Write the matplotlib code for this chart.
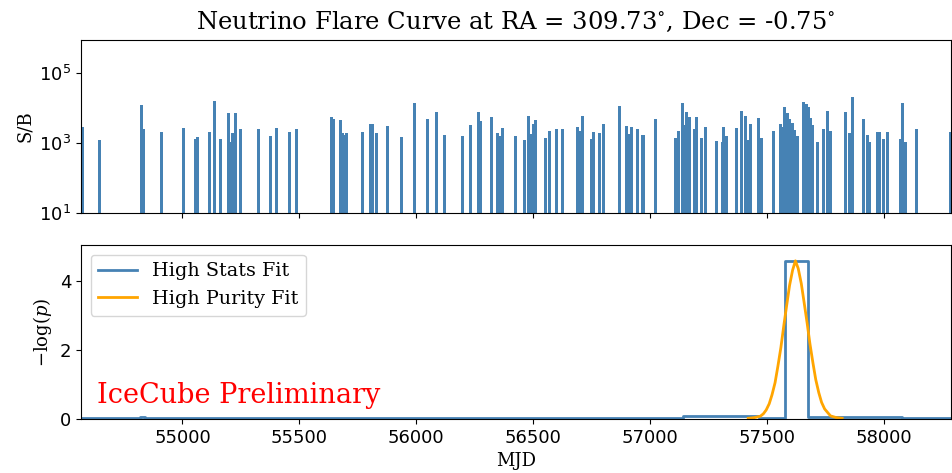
import matplotlib
matplotlib.use('Agg')
import matplotlib.pyplot as plt

plt.rcParams['mathtext.fontset'] = 'dejavuserif'

# top panel: S/B of each event (MJD, S/B)
event_mjd = [54573, 54644, 54826, 54834, 54912, 55006, 55057, 55064, 55115, 55138,
             55162, 55196, 55205, 55211, 55216, 55226, 55250, 55326, 55376, 55401,
             55458, 55489, 55637, 55644, 55678, 55685, 55693, 55703, 55772, 55806,
             55812, 55832, 55878, 55936, 55993, 56047, 56088, 56121, 56196, 56232,
             56265, 56275, 56324, 56346, 56356, 56371, 56424, 56464, 56482, 56491,
             56502, 56512, 56552, 56571, 56602, 56627, 56691, 56700, 56710, 56749,
             56757, 56784, 56802, 56871, 56899, 56909, 56919, 56947, 56970, 57023,
             57111, 57122, 57140, 57148, 57158, 57168, 57191, 57198, 57221, 57238,
             57285, 57309, 57316, 57327, 57369, 57390, 57408, 57419, 57430, 57466,
             57475, 57530, 57558, 57568, 57577, 57586, 57598, 57608, 57618, 57629,
             57658, 57668, 57676, 57688, 57696, 57716, 57741, 57761, 57773, 57837,
             57854, 57865, 57912, 57929, 57941, 57972, 57982, 58000, 58017, 58072,
             58079, 58093, 58138, 58285]
event_sb = [2900, 1230, 12300, 2450, 2040, 2640, 1270, 1520, 2040, 15900,
            1260, 7100, 1100, 1100, 1950, 7100, 2450, 2450, 1590, 2640,
            2040, 2450, 5400, 4900, 4560, 1900, 1660, 1900, 2040, 3500,
            3500, 1900, 3100, 1520, 13500, 4900, 7800, 1690, 1590, 3270,
            7800, 4240, 5400, 1900, 1590, 2640, 1590, 1220, 6000, 1780,
            3400, 4560, 1410, 2250, 2450, 2450, 2950, 2250, 6000, 1290,
            2040, 1900, 3500, 11500, 3100, 1800, 2950, 2450, 1690, 4900,
            1410, 2250, 13500, 3270, 7800, 5600, 2450, 5400, 1410, 2950,
            1170, 1100, 2950, 1590, 2640, 8300, 6000, 1220, 3500, 5000,
            1410, 2250, 3500, 2950, 10500, 7400, 4750, 3800, 2300, 1590,
            14500, 12900, 10500, 5000, 3270, 1100, 2450, 8300, 2250, 7800,
            1900, 21000, 4850, 1690, 1100, 2040, 2040, 1290, 2040, 1260,
            13500, 1100, 2450, 2040]

# bottom panel: high stats fit (step curve)
stats_mjd = [54566, 54820, 54840, 57140, 57465, 57577, 57676, 58080, 58288]
stats_val = [0.03, 0.06, 0.03, 0.10, 0.03, 4.57, 0.06, 0.03, 0.03]

# bottom panel: high purity fit
purity_mjd = [57420, 57447, 57472, 57485, 57497, 57510, 57522, 57535, 57547,
              57560, 57572, 57585, 57597, 57610, 57622, 57634, 57647, 57659,
              57672, 57684, 57697, 57709, 57722, 57734, 57747, 57772, 57797,
              57822]
purity_val = [0.02, 0.04, 0.08, 0.15, 0.26, 0.44, 0.70, 1.05, 1.52,
              2.07, 2.68, 3.30, 3.86, 4.30, 4.57, 4.35, 3.92, 3.38,
              2.78, 2.18, 1.62, 1.14, 0.76, 0.48, 0.29, 0.09, 0.04,
              0.02]

serif = {'family': 'DejaVu Serif'}

fig = plt.figure(figsize=(9.53, 4.73), dpi=100)
ax1 = fig.add_axes([0.085, 0.5497, 0.913, 0.3657])
ax2 = fig.add_axes([0.085, 0.1142, 0.913, 0.3678], sharex=ax1)

ax1.bar(event_mjd, event_sb, width=13, color='steelblue')
ax1.set_yscale('log')
ax1.set_ylim(10, 8.7e5)
ax1.set_yticks([1e1, 1e3, 1e5])
ax1.minorticks_off()
ax1.set_ylabel('S/B', fontdict=serif, fontsize=13)
ax1.set_title(r'Neutrino Flare Curve at RA = 309.73$^{\circ}$, Dec = -0.75$^{\circ}$',
              fontdict=serif, fontsize=17.5, pad=8)
ax1.tick_params(labelbottom=False, labelsize=13)

ax2.plot(stats_mjd, stats_val, drawstyle='steps-post', color='steelblue',
         lw=2, label='High Stats Fit')
ax2.plot(purity_mjd, purity_val, color='orange', lw=2, label='High Purity Fit')
ax2.set_xlim(54566, 58288)
ax2.set_ylim(0, 1.1 * max(stats_val))
ax2.set_yticks([0, 2, 4])
ax2.tick_params(labelsize=13)
ax2.set_xlabel('MJD', fontdict=serif, fontsize=13)
ax2.set_ylabel(r'$-\log(p)$', fontdict=serif, fontsize=13)
ax2.legend(loc='upper left', prop={'family': 'DejaVu Serif', 'size': 13.8})
ax2.text(0.018, 0.09, 'IceCube Preliminary', color='red', fontsize=19.5,
         family='DejaVu Serif', transform=ax2.transAxes)

fig.savefig('out.png', dpi=100)
